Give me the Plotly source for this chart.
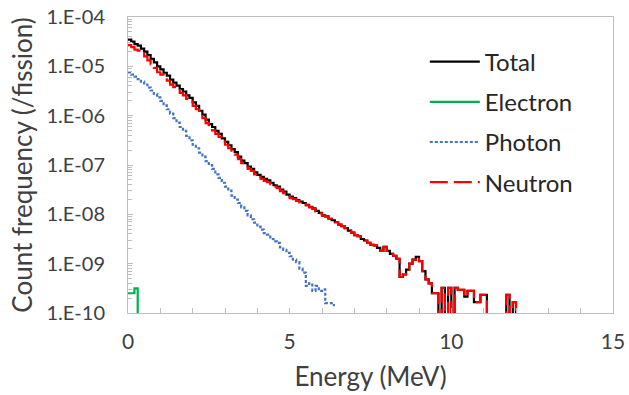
import plotly.graph_objects as go

# Bin width 0.1 MeV; bins start at 0 MeV. Values are log10(count/fission); None = zero count.
bin_width = 0.1

total_log10 = [
    -4.46, -4.50, -4.55, -4.58, -4.64, -4.70, -4.77, -4.85, -4.92, -5.00,
    -5.06, -5.13, -5.19, -5.27, -5.33, -5.39, -5.46, -5.51, -5.59, -5.64,
    -5.73, -5.80, -5.90, -5.98, -6.08, -6.17, -6.23, -6.31, -6.37, -6.46,
    -6.53, -6.60, -6.68, -6.74, -6.83, -6.91, -6.96, -7.03, -7.08, -7.15,
    -7.20, -7.24, -7.28, -7.31, -7.36, -7.41, -7.44, -7.50, -7.54, -7.60,
    -7.64, -7.67, -7.71, -7.74, -7.77, -7.81, -7.85, -7.88, -7.93, -7.97,
    -8.02, -8.04, -8.09, -8.12, -8.16, -8.21, -8.24, -8.28, -8.33, -8.37,
    -8.42, -8.44, -8.50, -8.53, -8.58, -8.62, -8.63, -8.68, -8.74, -8.66,
    -8.74, -8.80, -8.84, -8.90, -9.27, -9.22, -9.12, -9.00, -8.92, -8.86,
    -8.95, -9.15, -9.32, -9.40, -9.60, -9.60, None, -9.49, None, -9.49,
    None, -9.49, -9.53, -9.53, -9.67, -9.55, -9.55, -9.78, -9.78, -9.63,
    -9.63, None, None, None, None, None, None, -9.63, None, -9.78,
    None,
]

electron_log10 = [-9.60, -9.60, -9.50, None]

photon_log10 = [
    -5.13, -5.17, -5.21, -5.26, -5.31, -5.37, -5.43, -5.49, -5.56, -5.63,
    -5.70, -5.79, -5.87, -5.96, -6.05, -6.14, -6.23, -6.31, -6.41, -6.50,
    -6.59, -6.66, -6.75, -6.83, -6.92, -7.00, -7.08, -7.19, -7.26, -7.36,
    -7.44, -7.52, -7.62, -7.70, -7.77, -7.86, -7.93, -8.02, -8.10, -8.17,
    -8.25, -8.31, -8.38, -8.41, -8.50, -8.55, -8.58, -8.67, -8.72, -8.78,
    -8.85, -8.92, -8.97, -9.10, -9.18, -9.45, -9.40, -9.55, -9.45, -9.55,
    -9.52, -9.80, -9.80, -9.84,
]

neutron_log10 = [
    -4.57, -4.61, -4.66, -4.68, -4.75, -4.80, -4.88, -4.96, -5.03, -5.12,
    -5.17, -5.24, -5.29, -5.37, -5.42, -5.48, -5.54, -5.59, -5.66, -5.71,
    -5.80, -5.87, -5.97, -6.05, -6.15, -6.24, -6.30, -6.37, -6.43, -6.52,
    -6.59, -6.66, -6.73, -6.79, -6.88, -6.96, -7.01, -7.08, -7.12, -7.19,
    -7.24, -7.28, -7.32, -7.35, -7.39, -7.44, -7.47, -7.53, -7.57, -7.63,
    -7.67, -7.69, -7.73, -7.76, -7.79, -7.82, -7.86, -7.89, -7.94, -7.98,
    -8.03, -8.04, -8.09, -8.12, -8.16, -8.21, -8.24, -8.28, -8.33, -8.37,
    -8.42, -8.44, -8.50, -8.53, -8.58, -8.62, -8.63, -8.68, -8.74, -8.66,
    -8.74, -8.80, -8.84, -8.90, -9.27, -9.22, -9.12, -9.00, -8.92, -8.86,
    -8.95, -9.15, -9.32, -9.40, -9.60, -9.60, None, -9.49, None, -9.49,
    None, -9.49, -9.53, -9.53, -9.67, -9.55, -9.55, -9.78, -9.78, -9.63,
    -9.63, None, None, None, None, None, None, -9.63, None, -9.78,
    None,
]

y_tick_vals = [1e-4, 1e-5, 1e-6, 1e-7, 1e-8, 1e-9, 1e-10]
y_tick_text = ["1.E-04", "1.E-05", "1.E-06", "1.E-07", "1.E-08", "1.E-09", "1.E-10"]
x_tick_vals = [0, 5, 10, 15]

FLOOR = 1e-13  # zero-count bins are drawn below the visible axis range


def step_xy(logs):
    ys = [FLOOR if v is None else 10 ** v for v in logs]
    xs = [round(i * bin_width, 4) for i in range(len(ys) + 1)]
    ys = ys + [ys[-1]]
    return xs, ys


FONT = "Lato, 'Open Sans', sans-serif"
AX = "#bfbfbf"
TXT = "#404040"

series = [
    ("Total", total_log10, dict(color="#000000", width=2.2, dash="solid")),
    ("Electron", electron_log10, dict(color="#00b050", width=2.2, dash="solid")),
    ("Photon", photon_log10, dict(color="#4472c4", width=2.2, dash="3px,2px")),
    ("Neutron", neutron_log10, dict(color="#ff0000", width=2.2, dash="18px,6px")),
]

fig = go.Figure()
for name, logs, line in series:
    xs, ys = step_xy(logs)
    fig.add_trace(go.Scatter(x=xs, y=ys, mode="lines", name=name, line=dict(shape="hv", **line),
                             legendgroup=name, hoverinfo="skip"))

fig.update_layout(
    width=629, height=395,
    margin=dict(l=128, r=16, t=17, b=82, autoexpand=False),
    paper_bgcolor="white", plot_bgcolor="white",
    font=dict(family=FONT, color="#262626"),
    showlegend=True,
    legend=dict(x=0.612, y=0.924, xanchor="left", yanchor="top",
                font=dict(size=24, family=FONT, color="#262626"),
                bgcolor="rgba(0,0,0,0)", tracegroupgap=6, traceorder="grouped",
                itemwidth=50),
    xaxis=dict(range=[0, 15], tickvals=x_tick_vals, ticks="inside", ticklen=5, tickcolor=AX,
               minor=dict(dtick=1, ticks="inside", ticklen=5, tickcolor=AX, showgrid=False),
               showline=True, linecolor=AX, linewidth=1, mirror=True,
               showgrid=False, zeroline=False, automargin=False, ticklabeloverflow="allow",
               tickfont=dict(size=21, family=FONT, color=TXT), ticklabelstandoff=10,
               title=dict(text="Energy (MeV)", font=dict(size=26, family=FONT, color=TXT), standoff=15)),
    yaxis=dict(type="log", range=[-10, -4], tickvals=y_tick_vals, ticktext=y_tick_text,
               ticks="inside", ticklen=5, tickcolor=AX,
               minor=dict(dtick="D1", ticks="inside", ticklen=4, tickcolor=AX, showgrid=False),
               showline=True, linecolor=AX, linewidth=1, mirror=True,
               showgrid=False, zeroline=False, automargin=False, ticklabeloverflow="allow",
               tickfont=dict(size=20, family=FONT, color=TXT), ticklabelstandoff=18,
               title=dict(text="Count frequency (/fission)", font=dict(size=26, family=FONT, color=TXT), standoff=6)),
)

# Remove the browser's default 8 px body margin so the figure fills the window exactly.
fig.write_html("out.html", config={"displayModeBar": False},
               post_script="document.body.style.margin='0';")
